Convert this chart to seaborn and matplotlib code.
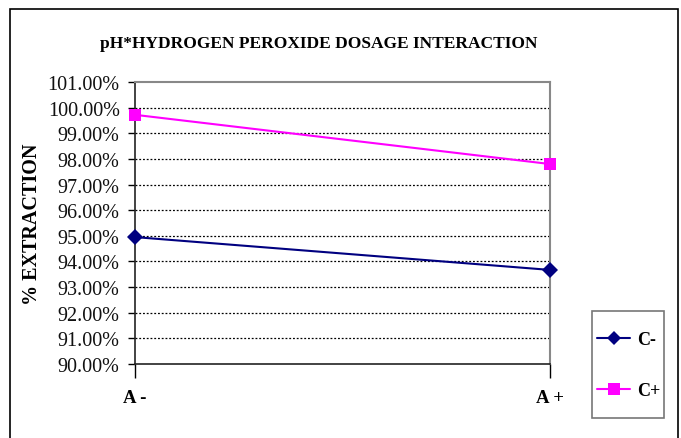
import matplotlib
matplotlib.use("Agg")
import matplotlib.pyplot as plt
import matplotlib.patches as mpatches
import seaborn as sns
import pandas as pd
from matplotlib.ticker import FuncFormatter, MultipleLocator

# Data
levels_a = ["A -", "A +"]
c_minus = [0.9495, 0.9367]
c_plus = [0.9972, 0.9780]
series_names = ["C-", "C+"]

df = pd.DataFrame({
    "A": levels_a * 2,
    "x": [0, 1] * 2,
    "Extraction": c_minus + c_plus,
    "Series": [series_names[0]] * 2 + [series_names[1]] * 2,
})

sns.set_theme(style="white")
plt.rcParams["font.family"] = ["Liberation Serif", "DejaVu Serif"]
plt.rcParams["text.color"] = "black"

fig = plt.figure(figsize=(6.81, 4.39), dpi=100)
ax = fig.add_axes([135 / 681, 1 - 365 / 439, 415 / 681, 282 / 439])

# Outer chart border
fig.patches.append(mpatches.Rectangle((10 / 681, -0.05), 668 / 681, 1 - 10 / 439 + 0.05,
                                      transform=fig.transFigure, fill=False,
                                      edgecolor="black", linewidth=1.2))

palette = {"C-": "#000080", "C+": "#FF00FF"}
markers = {"C-": "D", "C+": "s"}
sns.lineplot(data=df, x="x", y="Extraction", hue="Series", style="Series",
             palette=palette, markers=markers, dashes=False, markersize=8,
             markeredgewidth=0, linewidth=1.5, ax=ax, legend=False)
for line in ax.lines:
    line.set_clip_on(False)
    line.set_zorder(5)

ax.set_xlim(0, 1)
ax.set_ylim(0.90, 1.01)
ax.yaxis.set_major_locator(MultipleLocator(0.01))
ax.yaxis.set_major_formatter(FuncFormatter(lambda v, p: f"{v * 100:.2f}%"))
ax.set_xticks([0, 1])
ax.set_xticklabels(levels_a, fontweight="bold", fontsize=13.5)
ax.tick_params(axis="x", direction="out", length=10, width=1, color="black", pad=8, bottom=True,
               labelcolor="black")
ax.tick_params(axis="y", direction="out", length=5, width=1, color="black", pad=6, left=True,
               labelsize=14.5, labelcolor="#111111")

# Dotted horizontal gridlines
for v in [0.91 + i * 0.01 for i in range(9)] + [1.00]:
    ax.axhline(v, color="black", linestyle=(0, (1.5, 1.5)), linewidth=0.9, zorder=0)

for side in ["left", "bottom"]:
    ax.spines[side].set_color("#222222")
    ax.spines[side].set_linewidth(1.2)
for side in ["top", "right"]:
    ax.spines[side].set_color("#888888")
    ax.spines[side].set_linewidth(1.5)
    ax.spines[side].set_visible(True)

ax.set_xlabel("")
ax.set_ylabel("% EXTRACTION", fontweight="bold", fontsize=14.5, color="black")
ax.yaxis.set_label_coords(-0.225, 0.5)

fig.text(0.468, 1 - 44 / 439, "pH*HYDROGEN PEROXIDE DOSAGE INTERACTION",
         ha="center", va="center", fontweight="bold", fontsize=12.5, color="black")

# Legend box and entries
fig.patches.append(mpatches.Rectangle((592 / 681, 1 - 419 / 439), 72 / 681, 107 / 439,
                                      transform=fig.transFigure, fill=True, facecolor="white",
                                      edgecolor="#777777", linewidth=1.2, zorder=1))
handles = [
    plt.Line2D([], [], color="#000080", marker="D", markersize=7, markeredgewidth=0, linewidth=1.5),
    plt.Line2D([], [], color="#FF00FF", marker="s", markersize=8, markeredgewidth=0, linewidth=1.5),
]
leg = fig.legend(handles, series_names, loc="center left",
                 bbox_to_anchor=(597 / 681, 1 - 366 / 439), frameon=False,
                 handlelength=1.85, labelspacing=1.9,
                 borderpad=0, handletextpad=0.35, borderaxespad=0,
                 prop={"weight": "bold", "size": 13})
for t in leg.get_texts():
    t.set_color("black")

fig.savefig("out.png", dpi=100)
